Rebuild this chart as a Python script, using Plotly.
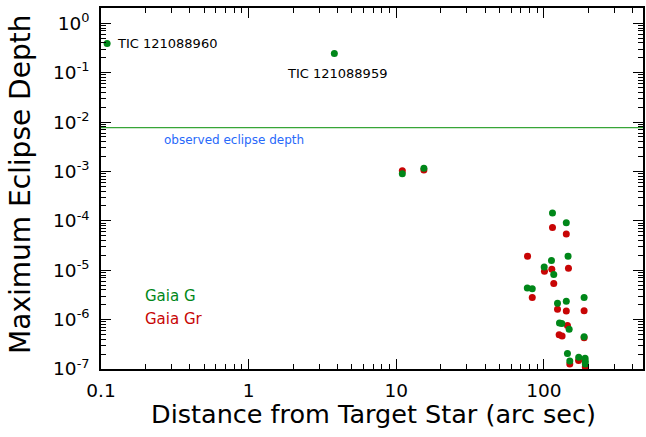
import math
import plotly.graph_objects as go

# --- data ---
green_dist = [0.11, 3.81, 11.0, 15.4, 114.5, 142, 146, 112.7, 100.6, 116.8, 77.3, 83.5,
              123.8, 142, 187.5, 127.7, 132.4, 148.5, 187.5, 144.6, 150, 172.4, 190.4, 191, 191]
green_depth = [0.39, 0.244, 8.98e-4, 1.16e-3, 1.45e-4, 9.1e-5, 1.92e-5, 1.57e-5, 1.16e-5, 8.2e-6,
               4.38e-6, 4.2e-6, 2.14e-6, 2.35e-6, 2.8e-6, 8.5e-7, 8.3e-7, 6.35e-7, 4.5e-7,
               2.07e-7, 1.45e-7, 1.72e-7, 1.66e-7, 1.43e-7, 1.26e-7]
red_dist = [11.0, 15.4, 114.5, 142, 77.6, 146.9, 113.3, 101, 116.8, 83.5, 123.8, 142, 187.5,
            144.6, 127, 133, 187.5, 150, 172, 191]
red_depth = [1.03e-3, 1.07e-3, 7.3e-5, 5.4e-5, 1.92e-5, 1.1e-5, 1.05e-5, 9.5e-6, 5.4e-6, 2.8e-6,
             1.62e-6, 1.49e-6, 1.52e-6, 7.6e-7, 4.96e-7, 4.65e-7, 4.3e-7, 1.26e-7, 1.48e-7, 1.1e-7]
observed_depth = 7.7e-3
target_labels = ["TIC 121088960", "TIC 121088959"]

x_tickvals = [0.1, 1, 10, 100]
x_ticktext = ["0.1", "1", "10", "100"]
y_tickvals = [1, 1e-1, 1e-2, 1e-3, 1e-4, 1e-5, 1e-6, 1e-7]
y_ticktext = ["10<sup>0</sup>", "10<sup>-1</sup>", "10<sup>-2</sup>", "10<sup>-3</sup>",
              "10<sup>-4</sup>", "10<sup>-5</sup>", "10<sup>-6</sup>", "10<sup>-7</sup>"]

GREEN = "rgb(0,135,25)"
RED = "rgb(200,5,5)"
FONT = "DejaVu Sans"

fig = go.Figure()
fig.add_trace(go.Scatter(x=red_dist, y=red_depth, mode="markers", name="Gaia Gr",
                         marker=dict(color=RED, size=7), cliponaxis=False))
fig.add_trace(go.Scatter(x=green_dist, y=green_depth, mode="markers", name="Gaia G",
                         marker=dict(color=GREEN, size=7), cliponaxis=False))

fig.add_hline(y=observed_depth, line=dict(color="rgb(55,165,55)", width=1.2))

L = math.log10
fig.add_annotation(x=L(green_dist[0]), y=L(green_depth[0]), text=target_labels[0], showarrow=False,
                   xanchor="left", xshift=8, font=dict(family=FONT, size=13, color="black"))
fig.add_annotation(x=L(green_dist[1]), y=L(green_depth[1]), text=target_labels[1], showarrow=False,
                   xanchor="center", xshift=3, yshift=-20, font=dict(family=FONT, size=13, color="black"))
fig.add_annotation(x=L(0.8), y=L(observed_depth), text="observed eclipse depth", showarrow=False,
                   xanchor="center", yshift=-12.5, font=dict(family=FONT, size=12, color="rgb(40,105,250)"))
fig.add_annotation(xref="paper", yref="paper", x=0.077, y=0.203, text="Gaia G", showarrow=False,
                   xanchor="left", yanchor="middle", font=dict(family=FONT, size=15, color=GREEN))
fig.add_annotation(xref="paper", yref="paper", x=0.077, y=0.138, text="Gaia Gr", showarrow=False,
                   xanchor="left", yanchor="middle", font=dict(family=FONT, size=15, color=RED))

# axis titles
fig.add_annotation(xref="paper", yref="paper", x=0.5, y=0, yshift=-45, xshift=1.5,
                   text="Distance from Target Star (arc sec)", showarrow=False,
                   xanchor="center", yanchor="middle", font=dict(family=FONT, size=25.5, color="black"))
fig.add_annotation(xref="paper", yref="paper", x=0, xshift=-80, y=0.51,
                   text="Maximum Eclipse Depth", showarrow=False, textangle=-90,
                   xanchor="center", yanchor="middle", font=dict(family=FONT, size=28, color="black"))

axis_common = dict(showline=True, linecolor="black", linewidth=1.5, mirror="ticks",
                   ticks="inside", ticklen=10, tickwidth=1.2, tickcolor="black",
                   showgrid=False, zeroline=False, automargin=False,
                   minor=dict(ticks="inside", ticklen=5, tickwidth=1.2, tickcolor="black",
                              dtick="D1", showgrid=False),
                   tickfont=dict(family=FONT, size=18.5, color="black"))

fig.update_layout(
    width=646, height=437,
    margin=dict(l=101, r=3, t=8, b=68),
    paper_bgcolor="white", plot_bgcolor="white",
    showlegend=False,
    xaxis=dict(type="log", range=[-1, 2.672], tickmode="array", tickvals=x_tickvals,
               ticktext=x_ticktext, ticklabelstandoff=4, **axis_common),
    yaxis=dict(type="log", range=[-7, 0.31], tickmode="array", tickvals=y_tickvals,
               ticktext=y_ticktext, ticklabelstandoff=6, **axis_common),
)

# remove the default 8px page margin so the 646x437 figure fills the window
fig.write_html("out.html", config={"displayModeBar": False},
               post_script="document.body.style.margin='0px';")
